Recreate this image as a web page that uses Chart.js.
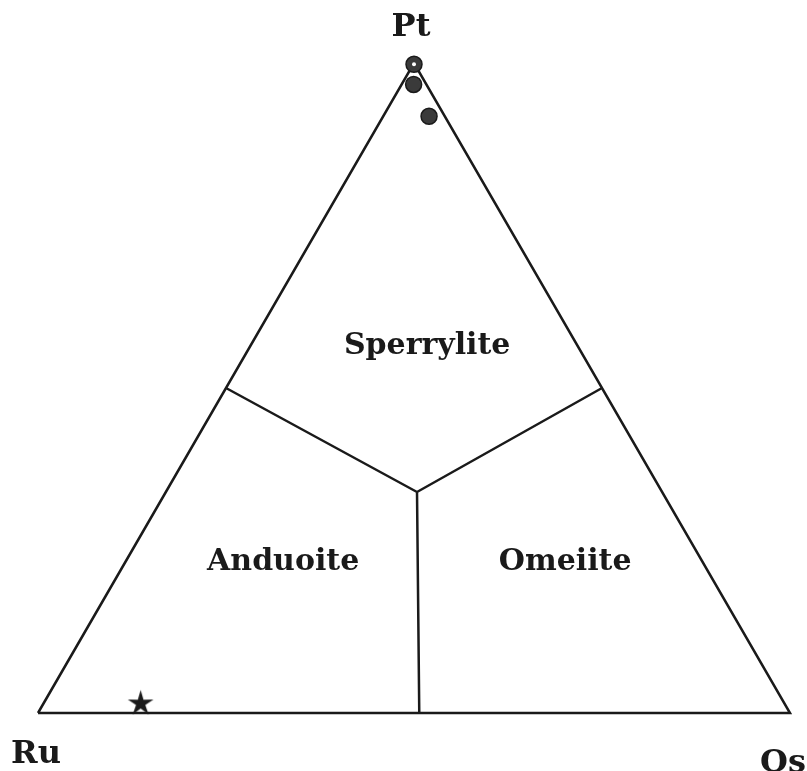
<!DOCTYPE html>
<html>
<head>
<meta charset="utf-8">
<script src="https://cdn.jsdelivr.net/npm/chart.js@4"></script>
<style>
html, body { margin: 0; padding: 0; background: #ffffff; }
#wrap { width: 807px; height: 771px; }
</style>
</head>
<body>
<div id="wrap"><canvas id="ternaryChart"></canvas></div>
<script>
// ========================================
// Data (compositions as [Pt, Ru, Os], in %)
// ========================================

const vertexNames = ["Pt", "Ru", "Os"];
const vertexComps = [[100, 0, 0], [0, 100, 0], [0, 0, 100]];

const outlineComps = [[0, 100, 0], [0, 0, 100], [100, 0, 0], [0, 100, 0]];

const fieldJunction = [34, 32.6, 33.4];
const fieldBoundaryEnds = [[50, 50, 0], [50, 0, 50], [0, 49.3, 50.7]];

const circleSamples = [[99.8, 0.1, 0.1], [96.7, 1.7, 1.6], [91.8, 2.1, 6.1]];
const starSamples = [[1.7, 85.5, 12.8]];

const fieldNames = ["Sperrylite", "Anduoite", "Omeiite"];
const fieldLabelComps = [[56.5, 20, 23.5], [23.2, 55.8, 21], [23.2, 18.3, 58.5]];

// ========================================
// Helpers
// ========================================

const H = Math.sqrt(3) / 2;

function toXY(c) {
  const sum = c[0] + c[1] + c[2];
  const pt = c[0] / sum, os = c[2] / sum;
  return { x: os + pt / 2, y: pt * H };
}

function makeStar(size) {
  const c = document.createElement("canvas");
  c.width = size; c.height = size;
  const g = c.getContext("2d");
  g.beginPath();
  for (let i = 0; i < 10; i++) {
    const r = i % 2 ? size * 0.18 : size * 0.5;
    const a = -Math.PI / 2 + i * Math.PI / 5;
    g.lineTo(size / 2 + r * Math.cos(a), size / 2 + r * Math.sin(a) + size * 0.06);
  }
  g.closePath();
  g.fillStyle = "#1a1a1a";
  g.fill();
  return c;
}

const boundarySegments = [];
fieldBoundaryEnds.forEach(e => {
  boundarySegments.push(toXY(fieldJunction), toXY(e), { x: NaN, y: NaN });
});

// ========================================
// Labels
// ========================================

const labelPlugin = {
  id: "ternaryLabels",
  afterDatasetsDraw(chart) {
    const ctx = chart.ctx;
    const xs = chart.scales.x, ys = chart.scales.y;
    ctx.save();
    ctx.fillStyle = "#1a1a1a";
    ctx.textAlign = "center";
    ctx.textBaseline = "middle";

    ctx.font = "bold 32px 'DejaVu Serif'";
    const offsets = [[-3, -35], [-2, 42], [-7, 51]];
    vertexNames.forEach((n, i) => {
      const p = toXY(vertexComps[i]);
      ctx.fillText(n, xs.getPixelForValue(p.x) + offsets[i][0], ys.getPixelForValue(p.y) + offsets[i][1]);
    });

    ctx.font = "bold 30px 'DejaVu Serif'";
    fieldNames.forEach((n, i) => {
      const p = toXY(fieldLabelComps[i]);
      ctx.fillText(n, xs.getPixelForValue(p.x), ys.getPixelForValue(p.y));
    });
    ctx.restore();
  }
};

// ========================================
// Chart
// ========================================

new Chart(

document.getElementById("ternaryChart"),

{

type: "scatter",

data: {

datasets: [

{
label: "Pt-rich grains",
data: circleSamples.map(toXY),
pointStyle: "circle",
pointRadius: 8,
backgroundColor: "#3a3a3a",
borderColor: "#1a1a1a",
borderWidth: 1.5,
clip: false,
order: 0
},

{
label: "Highlight",
data: circleSamples.slice(0, 1).map(toXY),
pointRadius: 2,
backgroundColor: "#ffffff",
borderWidth: 0,
clip: false,
order: -1
},

{
label: "Ru-rich grain",
data: starSamples.map(toXY),
pointStyle: makeStar(27),
clip: false,
order: 0
},

{
label: "Outline",
data: outlineComps.map(toXY),
showLine: true,
pointRadius: 0,
borderColor: "#1a1a1a",
borderWidth: 2.5,
clip: false,
order: 1
},

{
label: "Field boundaries",
data: boundarySegments,
showLine: true,
spanGaps: false,
pointRadius: 0,
borderColor: "#1a1a1a",
borderWidth: 2.5,
clip: false,
order: 1
}

]

},

options: {

responsive: true,
maintainAspectRatio: false,
animation: false,
layout: { padding: { left: 38, right: 17, top: 63, bottom: 58 } },
plugins: {
legend: { display: false },
tooltip: { enabled: false }
},
scales: {
x: { type: "linear", min: 0, max: 1, display: false },
y: { type: "linear", min: 0, max: H, display: false }
}

},

plugins: [labelPlugin]

}

);
</script>
</body>
</html>
